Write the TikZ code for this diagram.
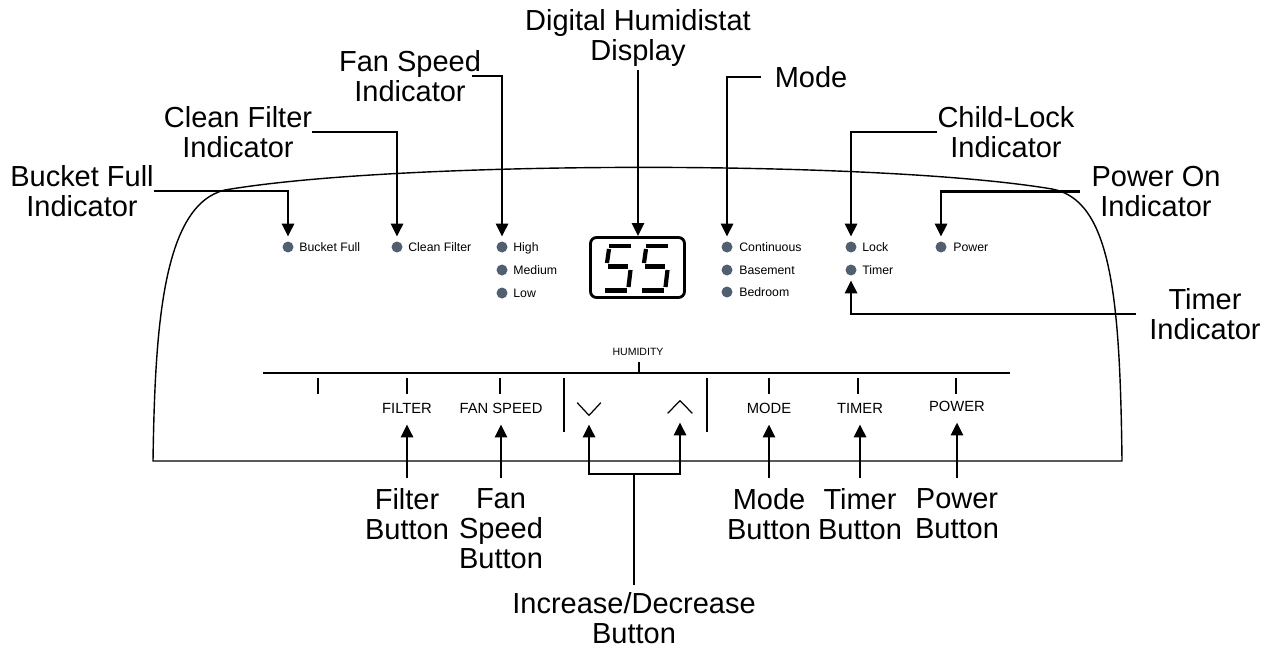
\documentclass[tikz,border=0pt]{standalone}
\usepackage{fontspec}
\setmainfont{Liberation Sans}
\usetikzlibrary{arrows.meta}
\definecolor{ledgray}{RGB}{80,96,112}

\begin{document}
\begin{tikzpicture}[x=0.02cm,y=-0.02cm]
    \tikzstyle{every node}+=[inner sep=0pt]
    \tikzstyle{callout}=[align=center,anchor=north,font=\fontsize{16.5}{17.07}\selectfont]
    \tikzstyle{ledlabel}=[anchor=west,text height=5pt,text depth=0pt,font=\fontsize{7}{8}\selectfont]
    \tikzstyle{keylabel}=[anchor=base,font=\fontsize{8.4}{9}\selectfont]
    \tikzstyle{led}=[circle,fill=ledgray,minimum size=0.22cm]
    \tikzstyle{leader}=[line width=1.6pt]
    \tikzstyle{pointer}=[line width=1.6pt,-{Triangle[length=0.26cm,width=0.24cm]}]
    \useasboundingbox (0,0) rectangle (1273,649);
    \draw [line width=0.8pt] (153,461) .. controls (155,330) and (162,205) .. (225,190) .. controls (400,160) and (880,160) .. (1052,189) .. controls (1112,200) and (1120,300) .. (1122,461) -- cycle;
    \draw [line width=1.1pt] (263,373) -- (1010,373);
    \draw [line width=1.1pt] (318,378) -- (318,394);
    \draw [line width=1.1pt] (407,378) -- (407,394);
    \draw [line width=1.1pt] (500,378) -- (500,394);
    \draw [line width=1.1pt] (564,378) -- (564,432);
    \draw [line width=1.1pt] (707,378) -- (707,432);
    \draw [line width=1.1pt] (769,378) -- (769,394);
    \draw [line width=1.1pt] (858,378) -- (858,394);
    \draw [line width=1.1pt] (956,378) -- (956,394);
    \node [font=\fontsize{6}{7}\selectfont,anchor=base] (lblhumidity) at (638,355) {HUMIDITY};
    \draw [line width=1.1pt] (639,362) -- (639,372);
    \node [keylabel] (keyfilter) at (407,413) {FILTER};
    \node [keylabel] (keyfan) at (501,413) {FAN SPEED};
    \node [keylabel] (keymode) at (769,413) {MODE};
    \node [keylabel] (keytimer) at (860,413) {TIMER};
    \node [keylabel] (keypower) at (957,411) {POWER};
    \node [minimum width=0.46cm,minimum height=0.24cm] (keydown) at (589,409) {};
    \node [minimum width=0.48cm,minimum height=0.24cm] (keyup) at (680,407) {};
    \draw [line width=0.7pt] (keydown.north west) -- (keydown.south) -- (keydown.north east);
    \draw [line width=0.7pt] (keyup.south west) -- (keyup.north) -- (keyup.south east);
    \node [led] (ledbucket) at (288,247) {};
    \node [ledlabel] (txtbucket) at (299,247.5) {Bucket Full};
    \node [led] (ledclean) at (397,247) {};
    \node [ledlabel] (txtclean) at (408,247.5) {Clean Filter};
    \node [led] (ledhigh) at (502,247) {};
    \node [ledlabel] (txthigh) at (513,247.5) {High};
    \node [led] (ledmedium) at (502,270) {};
    \node [ledlabel] (txtmedium) at (513,270.5) {Medium};
    \node [led] (ledlow) at (502,293) {};
    \node [ledlabel] (txtlow) at (513,293.5) {Low};
    \node [led] (ledcont) at (727,247) {};
    \node [ledlabel] (txtcont) at (739,247.5) {Continuous};
    \node [led] (ledbase) at (727,270) {};
    \node [ledlabel] (txtbase) at (739,270.5) {Basement};
    \node [led] (ledbed) at (727,292) {};
    \node [ledlabel] (txtbed) at (739,292.5) {Bedroom};
    \node [led] (ledlock) at (851,247) {};
    \node [ledlabel] (txtlock) at (862,247.5) {Lock};
    \node [led] (ledtimer) at (851,270) {};
    \node [ledlabel] (txttimer) at (862,270.5) {Timer};
    \node [led] (ledpower) at (941,247) {};
    \node [ledlabel] (txtpower) at (953,247.5) {Power};
    \node [draw,line width=1.6pt,rounded corners=0.12cm,minimum width=1.88cm,minimum height=1.2cm] (display) at (637.5,267.5) {};
    \draw [line width=2.4pt] (609,246) -- (631,246);
    \draw [line width=2.4pt] (609,249) -- (607,263);
    \draw [line width=2.4pt] (608,266.5) -- (628,266.5);
    \draw [line width=2.4pt] (630.5,270) -- (628.5,287);
    \draw [line width=2.4pt] (605,290.5) -- (627,290.5);
    \draw [line width=2.4pt] (646,246) -- (668,246);
    \draw [line width=2.4pt] (646,249) -- (644,263);
    \draw [line width=2.4pt] (645,266.5) -- (665,266.5);
    \draw [line width=2.4pt] (667.5,270) -- (665.5,287);
    \draw [line width=2.4pt] (642,290.5) -- (664,290.5);
    \node [callout] (lblbucket) at (82,165) {Bucket Full\\Indicator};
    \node [callout] (lblclean) at (238,106) {Clean Filter\\Indicator};
    \node [callout] (lblfanind) at (410,50) {Fan Speed\\Indicator};
    \node [callout] (lbldisplay) at (638,9) {Digital Humidistat\\Display};
    \node [callout] (lblmode) at (811,66) {Mode};
    \node [callout] (lbllock) at (1006,106) {Child-Lock\\Indicator};
    \node [callout] (lblpower) at (1156,166) {Power On\\Indicator};
    \node [callout] (lbltimer) at (1205,288) {Timer\\Indicator};
    \node [callout] (lblfilterbtn) at (407,488) {Filter\\Button};
    \node [callout] (lblfanbtn) at (501,488) {Fan\\Speed\\Button};
    \node [callout] (lblincdec) at (634,592) {Increase/Decrease\\Button};
    \node [callout] (lblmodebtn) at (769,488) {Mode\\Button};
    \node [callout] (lbltimerbtn) at (860,488) {Timer\\Button};
    \node [callout] (lblpowerbtn) at (957,488) {Power\\Button};
    \draw [pointer,shorten >=0.09cm] (lblbucket.east) -| (ledbucket.north);
    \draw [pointer,shorten >=0.09cm] (lblclean.east) -| (ledclean.north);
    \draw [pointer,shorten >=0.09cm,shorten <=-0.18cm] (lblfanind.east) -| (ledhigh.north);
    \draw [pointer,shorten <=0.06cm] (lbldisplay.south) -- (lbldisplay.south |- display.north);
    \draw [pointer,shorten >=0.09cm,shorten <=0.26cm] (lblmode.west) -| (ledcont.north);
    \draw [pointer,shorten >=0.09cm] (lbllock.west) -| (ledlock.north);
    \draw [pointer,shorten >=0.09cm,shorten <=0.22cm] (lblpower.west) -| (ledpower.north);
    \draw [pointer,shorten >=0.09cm,shorten <=0.26cm] (lbltimer.west) -| (ledtimer.south);
    \draw [pointer,shorten <=0.2cm,shorten >=0.22cm] (lblfilterbtn.north) -- (lblfilterbtn.north |- keyfilter.south);
    \draw [pointer,shorten <=0.2cm,shorten >=0.22cm] (lblfanbtn.north) -- (lblfanbtn.north |- keyfan.south);
    \draw [pointer,shorten <=0.2cm,shorten >=0.22cm] (lblmodebtn.north) -- (lblmodebtn.north |- keymode.south);
    \draw [pointer,shorten <=0.2cm,shorten >=0.22cm] (lbltimerbtn.north) -- (lbltimerbtn.north |- keytimer.south);
    \draw [pointer,shorten <=0.2cm,shorten >=0.22cm] (lblpowerbtn.north) -- (lblpowerbtn.north |- keypower.south);
    \coordinate (incdecjoin) at (634,474);
    \draw [leader,shorten <=0.14cm] (lblincdec.north) -- (incdecjoin);
    \draw [pointer,shorten >=0.18cm] (incdecjoin) -| (keydown.south);
    \draw [pointer,shorten >=0.18cm] (incdecjoin) -| (keyup.south);
\end{tikzpicture}
\end{document}
